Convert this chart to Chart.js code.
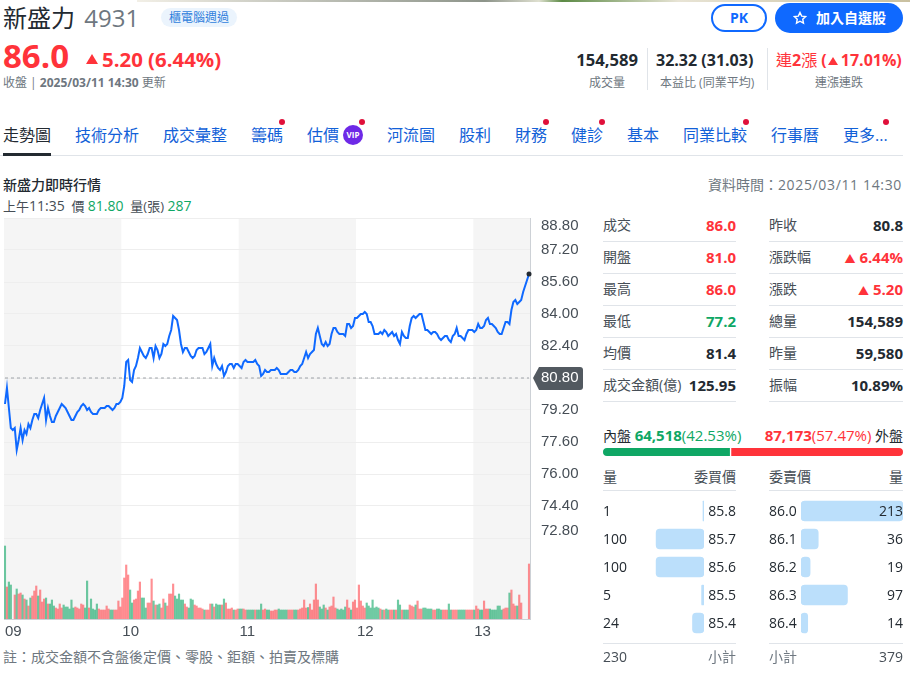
<!DOCTYPE html>
<html lang="zh-Hant">
<head>
<meta charset="UTF-8">
<title>新盛力 4931</title>
<script src="https://cdn.jsdelivr.net/npm/chart.js"></script>
<style>
    html, body { margin: 0; padding: 0; background: #fff; }
    body { position: relative; width: 910px; height: 675px; overflow: hidden;
           font-family: "Open Sans", "Noto Sans CJK TC", sans-serif; color: #232a31; }
    .t { position: absolute; white-space: nowrap; line-height: 20px; height: 20px; }
    .r { text-align: right; }
    .b { font-weight: 700; }
    .gray { color: #6e7780; }
    .red { color: #ff333a; }
    .green { color: #0fa765; }
    .tab { font-size: 16px; color: #1261d8; }
    .dot { position: absolute; width: 6px; height: 6px; border-radius: 3px; background: #e0103a; top: 119px; }
    .sep { position: absolute; height: 1px; background: #e0e4e9; }
    canvas { position: absolute; display: block; }
</style>
</head>
<body>
<div style="position:absolute;left:137px;top:0;width:773px;height:2px;background:linear-gradient(90deg,#f2efe6,#8d948a 45%,#dfe0d0 52%,#5c8a45 55%,#e8e4d5 70%,#c9c0a0)"></div>

<div class="t" style="left:3px;top:4px;height:28px;line-height:28px;font-size:24px">新盛力 <span style="color:#6e7780;margin-left:3px">4931</span></div>
<div class="t" style="left:161px;top:8px;width:76px;height:19px;line-height:19px;border-radius:10px;background:#ebf4fd;color:#2f7fdc;font-size:12px;text-align:center">櫃電腦週過</div>
<div class="t b red" style="left:3px;top:38px;height:36px;line-height:36px;font-size:33px">86.0</div>
<div class="t b red" style="left:102px;top:47px;height:24px;line-height:24px;font-size:20.4px">5.20 (6.44%)</div>
<div class="t gray" style="left:3px;top:73px;font-size:12px">收盤 | <b>2025/03/11 14:30</b> 更新</div>
<svg style="position:absolute;left:86px;top:54px" width="12" height="10"><path d="M6 0 L12 10 L0 10 Z" fill="#ff333a"/></svg>

<div class="t b" style="left:711px;top:4px;width:52px;height:24px;line-height:24px;border:2px solid #0f69ff;border-radius:14px;color:#0f69ff;font-size:14px;text-align:center">PK</div>
<div class="t b" style="left:775px;top:3px;width:128px;height:30px;line-height:30px;border-radius:15px;background:#0f69ff;color:#fff;font-size:14px;padding-left:41px;box-sizing:border-box">加入自選股</div>
<svg style="position:absolute;left:793px;top:11px" width="14" height="14" viewBox="0 0 24 24"><path d="M12 2.5l2.9 6.2 6.8.8-5 4.6 1.3 6.7L12 17.5l-6 3.3 1.3-6.7-5-4.6 6.8-.8z" fill="none" stroke="#fff" stroke-width="2.4"/></svg>

<div class="t b r" style="right:272px;top:50px;font-size:16.6px">154,589</div>
<div class="t gray r" style="right:285px;top:73px;font-size:12px">成交量</div>
<div class="sep" style="left:647px;top:48px;width:1px;height:42px"></div>
<div class="t b" style="left:656px;top:50px;font-size:16px">32.32 (31.03)</div>
<div class="t gray" style="left:660px;top:73px;font-size:12px">本益比 (同業平均)</div>
<div class="sep" style="left:767px;top:48px;width:1px;height:42px"></div>
<div class="t red" style="left:776px;top:50px;font-size:16px">連<b>2</b>漲 <b>(<svg width="10" height="8" style="margin:0 3px 1px 1px"><path d="M5 0 L10 8 L0 8 Z" fill="#ff333a"/></svg>17.01%)</b></div>
<div class="t gray" style="left:815px;top:73px;font-size:12px">連漲連跌</div>

<div id="tabs"></div>
<div class="sep" style="left:0;top:155px;width:903px;height:1px"></div>
<div style="position:absolute;left:3px;top:153px;width:48px;height:3px;background:#232a31"></div>
<div style="position:absolute;left:343px;top:125px;width:20px;height:20px;border-radius:10px;background:#6e29e7;color:#fff;font-size:8px;font-weight:700;line-height:20px;text-align:center">VIP</div>

<div class="t" style="left:3px;top:175px;font-size:14px;font-weight:500">新盛力即時行情</div>
<div class="t gray r" style="right:8px;top:175px;font-size:14px">資料時間：<span style="letter-spacing:.65px">2025/03/11 14:30</span></div>
<div class="t" style="left:3px;top:196px;font-size:13px;color:#464e56">上午<span style="font-size:14px">11:35</span>&nbsp; 價 <span class="green" style="font-size:14px">81.80</span>&nbsp; 量(張) <span class="green" style="font-size:14px">287</span></div>

<canvas id="trend" width="590" height="430" style="left:0;top:210px"></canvas>

<div id="quote"></div>

<div class="t" style="left:603px;top:425px;font-size:14px">內盤 <span class="green" style="font-size:15px"><b>64,518</b>(42.53%)</span></div>
<div class="t r" style="right:7px;top:425px;font-size:14px"><span class="red" style="font-size:15px"><b>87,173</b>(57.47%)</span> 外盤</div>
<canvas id="ratio" width="300" height="8" style="left:603px;top:448px"></canvas>

<div class="t" style="left:603px;top:467px;font-size:14px;color:#464e56">量</div>
<div class="t r" style="right:174px;top:467px;font-size:14px;color:#464e56">委買價</div>
<div class="t" style="left:769px;top:467px;font-size:14px;color:#464e56">委賣價</div>
<div class="t r" style="right:7px;top:467px;font-size:14px;color:#464e56">量</div>
<div class="sep" style="left:603px;top:490px;width:133px"></div>
<div class="sep" style="left:769px;top:490px;width:134px"></div>
<canvas id="bidChart" width="102" height="140" style="left:602px;top:497px"></canvas>
<canvas id="askChart" width="102" height="140" style="left:801px;top:497px"></canvas>
<div id="book"></div>
<div class="sep" style="left:603px;top:643px;width:133px"></div>
<div class="sep" style="left:769px;top:643px;width:134px"></div>
<div class="t" style="left:603px;top:647px;font-size:14px;color:#464e56">230</div>
<div class="t gray r" style="right:174px;top:647px;font-size:14px">小計</div>
<div class="t gray" style="left:769px;top:647px;font-size:14px">小計</div>
<div class="t r" style="right:7px;top:647px;font-size:14px;color:#464e56">379</div>

<div class="t gray" style="left:3px;top:647px;font-size:14px">註：成交金額不含盤後定價、零股、鉅額、拍賣及標購</div>

<script>
    // price per minute, 09:00 onward
    const prices = [
        79.5,80.3,79.3,78.3,78.2,78.3,77.2,77.7,78.3,77.7,
        78.2,78.0,78.5,78.3,78.7,79.0,79.0,78.8,79.2,79.5,
        79.8,78.7,79.3,78.9,78.6,78.6,78.9,79.1,79.3,79.5,
        79.4,79.3,79.1,78.9,78.7,78.7,78.9,79.1,79.2,79.4,
        79.5,79.4,79.2,79.3,79.1,79.0,79.0,79.0,79.2,79.3,
        79.3,79.3,79.4,79.4,79.3,79.2,79.3,79.5,79.5,79.6,
        79.8,80.4,81.6,81.7,80.7,80.6,81.2,81.4,81.8,82.3,
        82.1,81.9,81.8,82.0,82.3,82.3,81.8,82.4,82.2,81.8,
        82.0,82.5,82.4,82.5,82.9,83.2,83.9,83.8,83.7,83.2,
        82.5,82.1,82.3,82.3,82.1,81.9,81.8,81.9,82.2,82.3,
        82.3,82.3,82.0,82.1,82.3,82.5,81.4,81.8,81.5,81.3,
        81.2,81.4,80.9,81.1,81.4,81.5,81.5,81.3,81.5,81.5,
        81.4,81.3,81.6,81.7,81.6,81.6,81.6,81.6,81.7,81.5,
        81.4,80.9,81.0,81.2,81.1,81.1,81.2,81.2,81.2,81.3,
        81.2,81.0,81.0,81.0,81.0,81.1,81.2,81.2,81.1,81.1,
        81.2,81.4,81.5,81.8,82.1,81.8,82.0,82.1,82.2,83.0,
        83.3,82.9,82.5,82.4,82.6,82.4,82.5,83.0,83.3,83.3,
        83.1,83.0,83.0,83.0,82.9,83.5,83.5,83.3,83.4,83.8,
        83.8,83.9,84.0,84.0,84.1,84.0,83.6,83.6,83.4,83.0,
        83.0,83.0,83.1,83.0,83.2,83.1,82.9,83.0,83.1,82.9,
        83.0,82.7,82.5,83.1,82.9,82.8,82.8,83.4,83.8,83.9,
        83.8,83.9,84.0,84.0,83.6,83.2,83.2,83.1,83.0,83.1,
        83.1,83.0,82.8,82.7,82.8,82.9,82.9,82.7,82.6,82.9,
        83.0,83.3,82.9,82.9,82.8,82.7,83.0,83.2,83.2,83.2,
        83.1,83.2,83.5,83.3,83.3,83.4,83.7,83.8,83.5,83.5,
        83.4,83.3,83.1,83.0,83.0,83.3,83.6,83.6,83.5,84.2,
        84.6,84.7,84.5,84.6,84.7,85.1,null,null,86.0
    ];
    // volume per minute (張)
    const volumes = [
        1825,800,925,850,null,600,750,625,650,600,
        500,475,325,525,575,700,825,575,725,425,
        500,525,375,375,475,325,275,250,375,275,
        350,300,300,250,475,275,300,275,250,375,
        350,275,950,275,500,250,225,375,250,225,
        225,225,325,250,225,225,225,225,450,300,
        525,1025,1350,1100,725,400,475,500,700,925,
        525,525,275,400,400,1000,450,350,350,375,
        275,500,400,325,625,625,875,575,500,625,
        475,475,375,300,275,500,475,350,325,275,
        275,250,225,225,225,375,375,300,375,350,
        350,350,500,400,250,250,275,225,225,250,
        250,250,250,225,225,225,225,225,225,225,
        225,375,225,250,225,225,200,200,225,225,
        250,225,225,225,225,225,225,225,225,225,
        225,250,275,475,275,287,375,225,475,875,
        475,300,250,350,275,225,300,325,550,275,
        250,225,250,225,300,475,275,225,425,475,
        275,850,450,325,275,400,325,275,475,275,
        300,275,250,225,225,250,225,225,225,225,
        225,475,350,225,225,225,225,350,325,300,
        350,450,250,250,275,275,250,250,250,225,
        225,250,250,225,225,225,225,375,225,225,
        225,225,225,225,225,225,225,225,225,225,
        225,325,250,225,225,450,250,250,250,225,
        225,225,325,325,225,250,275,275,650,725,
        375,325,325,600,400,null,null,null,1375
    ];
    const priceTicks = [88.8, 87.2, 85.6, 84, 82.4, 80.8, 79.2, 77.6, 76, 74.4, 72.8];
    const prevClose = 80.8;
    const shadedRanges = [[0, 60], [120, 180], [240, 269]];

    const quoteRows = [
        ['成交', '86.0', 'red', '昨收', '80.8', ''],
        ['開盤', '81.0', 'red', '漲跌幅', '<span style="font-size:11px">▲</span> 6.44%', 'red'],
        ['最高', '86.0', 'red', '漲跌', '<span style="font-size:11px">▲</span> 5.20', 'red'],
        ['最低', '77.2', 'green', '總量', '154,589', ''],
        ['均價', '81.4', '', '昨量', '59,580', ''],
        ['成交金額(億)', '125.95', '', '振幅', '10.89%', '']
    ];
    const bidPrices = ['85.8', '85.7', '85.6', '85.5', '85.4'];
    const bidSizes = [1, 100, 100, 5, 24];
    const askPrices = ['86.0', '86.1', '86.2', '86.3', '86.4'];
    const askSizes = [213, 36, 19, 97, 14];
    const innerShare = 42.53;
    const outerShare = 57.47;

    const tabNames = [['技術分析', 75], ['成交彙整', 163], ['籌碼', 251], ['估價', 307], ['河流圖', 387], ['股利', 459],
        ['財務', 515], ['健診', 571], ['基本', 627], ['同業比較', 683], ['行事曆', 771], ['更多...', 843]];
    const tabDots = [279, 359, 543, 599, 743, 883];

    // page text around the chart
    let html = '<div class="t" style="left:3px;top:125px;font-size:16px">走勢圖</div>';
    tabNames.forEach(([name, left]) => {
        html += `<div class="t tab" style="left:${left}px;top:125px">${name}</div>`;
    });
    tabDots.forEach(left => {
        html += `<div class="dot" style="left:${left}px"></div>`;
    });
    document.getElementById('tabs').innerHTML = html;

    html = '';
    quoteRows.forEach((row, i) => {
        const top = 215 + i * 32;
        html += `<div class="t" style="left:603px;top:${top}px;font-size:14px;color:#464e56">${row[0]}</div>
            <div class="t b r ${row[2]}" style="right:174px;top:${top}px;font-size:15px">${row[1]}</div>
            <div class="t" style="left:769px;top:${top}px;font-size:14px;color:#464e56">${row[3]}</div>
            <div class="t b r ${row[5]}" style="right:7px;top:${top}px;font-size:15px">${row[4]}</div>
            <div class="sep" style="left:603px;top:${top + 26}px;width:133px"></div>
            <div class="sep" style="left:769px;top:${top + 26}px;width:134px"></div>`;
    });
    document.getElementById('quote').innerHTML = html;

    html = '';
    bidPrices.forEach((p, i) => {
        const top = 501 + i * 28;
        html += `<div class="t" style="left:603px;top:${top}px;font-size:14px;color:#232a31">${bidSizes[i]}</div>
            <div class="t r" style="right:174px;top:${top}px;font-size:14px">${p}</div>
            <div class="t" style="left:769px;top:${top}px;font-size:14px">${askPrices[i]}</div>
            <div class="t r" style="right:7px;top:${top}px;font-size:14px">${askSizes[i]}</div>`;
    });
    document.getElementById('book').innerHTML = html;

    // main chart
    const timeLabels = prices.map((_, i) => {
        const m = 540 + i;
        return String(Math.floor(m / 60)).padStart(2, '0') + ':' + String(m % 60).padStart(2, '0');
    });

    // up minutes red, down minutes green, flat keeps the last colour
    const upColor = 'rgba(255,51,58,0.55)', downColor = 'rgba(15,167,101,0.6)';
    let lastPrice = prevClose, lastColor = downColor;
    const volumeColors = prices.map(p => {
        if (p !== null) {
            if (p > lastPrice) lastColor = upColor;
            if (p < lastPrice) lastColor = downColor;
            lastPrice = p;
        }
        return lastColor;
    });

    const backdrop = {
        id: 'backdrop',
        beforeDraw(chart) {
            const { ctx, chartArea, scales } = chart;
            const slot = scales.x.getPixelForValue(1) - scales.x.getPixelForValue(0);
            ctx.save();
            ctx.fillStyle = '#f5f5f5';
            shadedRanges.forEach(([a, b]) => {
                const left = scales.x.getPixelForValue(a) - slot / 2;
                const right = Math.min(left + (b - a) * slot, chartArea.right);
                ctx.fillRect(left, chartArea.top, right - left, chartArea.bottom - chartArea.top);
            });
            // tag behind the previous close label
            const y = scales.y.getPixelForValue(prevClose);
            const l = chartArea.right;
            ctx.fillStyle = '#525960';
            ctx.beginPath();
            ctx.moveTo(l + 3, y);
            ctx.lineTo(l + 9, y - 11);
            ctx.lineTo(l + 50, y - 11);
            ctx.quadraticCurveTo(l + 53, y - 11, l + 53, y - 8);
            ctx.lineTo(l + 53, y + 9);
            ctx.quadraticCurveTo(l + 53, y + 12, l + 50, y + 12);
            ctx.lineTo(l + 9, y + 12);
            ctx.closePath();
            ctx.fill();
            ctx.restore();
        }
    };

    new Chart(document.getElementById('trend'), {
        type: 'bar',
        plugins: [backdrop],
        data: {
            labels: timeLabels,
            datasets: [
                {
                    type: 'line', label: '成交', data: prices, yAxisID: 'y', order: 0,
                    borderColor: '#0f69ff', borderWidth: 2, tension: 0, spanGaps: true,
                    pointRadius: ctx => ctx.dataIndex === prices.length - 1 ? 2.5 : 0,
                    pointBackgroundColor: '#232a31', pointBorderWidth: 0
                },
                {
                    type: 'line', label: '昨收', data: prices.map(() => prevClose), yAxisID: 'y', order: 1,
                    borderColor: '#9a9fa5', borderWidth: 1, borderDash: [3, 3], pointRadius: 0
                },
                {
                    type: 'bar', label: '量', data: volumes, yAxisID: 'yVol', order: 2,
                    backgroundColor: volumeColors, barThickness: 1.5
                }
            ]
        },
        options: {
            responsive: false,
            animation: false,
            layout: { padding: { left: 3, top: 8, right: 0, bottom: 0 } },
            plugins: { legend: { display: false }, tooltip: { enabled: false } },
            scales: {
                x: {
                    offset: true,
                    grid: { display: false, drawTicks: false },
                    border: { color: '#cdd1d6' },
                    afterFit: s => { s.height = 21; s.paddingLeft = 0; s.paddingRight = 0; },
                    ticks: {
                        autoSkip: false, maxRotation: 0, minRotation: 0, align: 'start', padding: 4,
                        color: '#464e56', font: { size: 15 },
                        callback(value) {
                            const t = this.getLabelForValue(value);
                            return t.endsWith(':00') ? t.slice(0, 2) : '';
                        }
                    }
                },
                y: {
                    position: 'right', min: 68.75, max: 88.8,
                    afterBuildTicks: s => { s.ticks = priceTicks.map(v => ({ value: v })); },
                    // the end labels sit inside the plot height, so no extra margin for them
                    afterFit: s => { s.width = 60; s.paddingTop = 0; s.paddingBottom = 0; },
                    border: { color: '#cdd1d6' },
                    grid: { color: '#eeeeee', drawTicks: false },
                    ticks: {
                        padding: 11,
                        color: ctx => ctx.tick.value === prevClose ? '#ffffff' : '#464e56',
                        font: { size: 15, lineHeight: 1 },
                        callback: v => {
                            const s = v.toFixed(2);
                            if (v === priceTicks[0]) return ['', s];
                            if (v === priceTicks[priceTicks.length - 1]) return [s, ''];
                            return s;
                        }
                    }
                },
                yVol: { display: false, min: 0, max: 10025 }
            }
        }
    });

    // order book bars, same scale on both sides
    function bookChart(id, labels, sizes, reversed) {
        new Chart(document.getElementById(id), {
            type: 'bar',
            data: {
                labels: labels,
                datasets: [{ data: sizes, backgroundColor: '#bbdffb', barThickness: 20, borderRadius: 4, borderSkipped: false, minBarLength: 1 }]
            },
            options: {
                indexAxis: 'y', responsive: false, animation: false,
                plugins: { legend: { display: false }, tooltip: { enabled: false } },
                scales: {
                    x: { display: false, min: 0, max: 213, reverse: reversed },
                    y: { display: false }
                }
            }
        });
    }
    bookChart('bidChart', bidPrices, bidSizes, true);
    bookChart('askChart', askPrices, askSizes, false);

    // inner / outer split bar
    new Chart(document.getElementById('ratio'), {
        type: 'bar',
        data: {
            labels: ['盤'],
            datasets: [
                { data: [innerShare], backgroundColor: '#0fa765', barThickness: 8, borderSkipped: false,
                  borderWidth: { right: 1 }, borderColor: '#fff', borderRadius: { topLeft: 4, bottomLeft: 4 } },
                { data: [outerShare], backgroundColor: '#ff333a', barThickness: 8, borderSkipped: false,
                  borderWidth: { left: 1 }, borderColor: '#fff', borderRadius: { topRight: 4, bottomRight: 4 } }
            ]
        },
        options: {
            indexAxis: 'y', responsive: false, animation: false,
            plugins: { legend: { display: false }, tooltip: { enabled: false } },
            scales: {
                x: { display: false, stacked: true, min: 0, max: 100 },
                y: { display: false, stacked: true }
            }
        }
    });
</script>
</body>
</html>
